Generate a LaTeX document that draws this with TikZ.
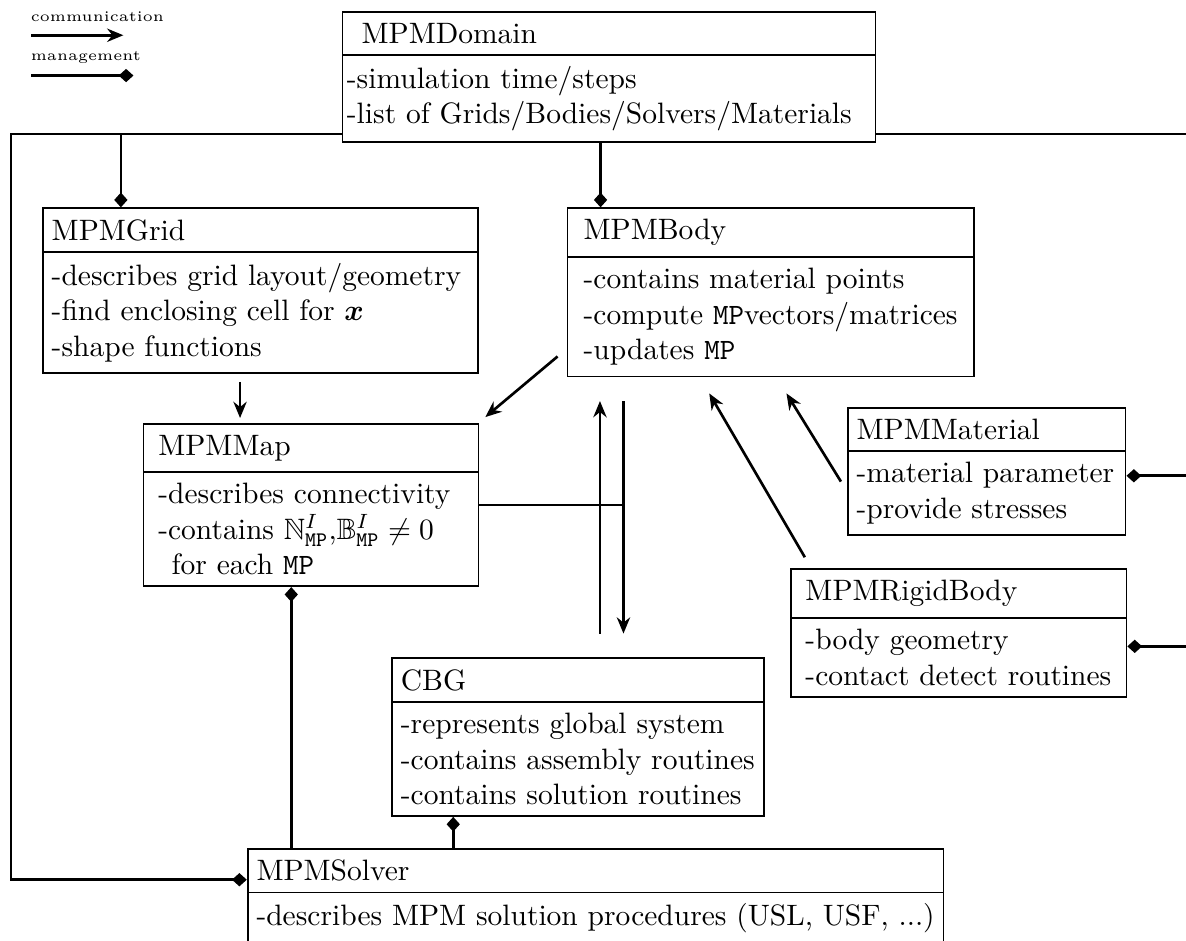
\documentclass[tikz,border=0pt]{standalone}
\usepackage{amsmath,amssymb}
\usetikzlibrary{arrows.meta,shapes.multipart}

\tikzset{
  classbox/.style={draw, semithick, rectangle split, rectangle split parts=2,
    rectangle split part align=left, align=left, inner xsep=3pt, inner ysep=3.5pt,
    anchor=north west},
  comm/.style={line width=0.9pt, -{Stealth[length=5.5pt,width=4.5pt]}},
  manage/.style={line width=0.9pt, -{Diamond[length=5pt,width=4.5pt]}},
  link/.style={line width=0.9pt},
  legend/.style={font=\tiny, inner sep=0pt, anchor=west},
}

\begin{document}
\begin{tikzpicture}
  \useasboundingbox (0,0) rectangle (14.13,-11.2);
  \clip (0,0) rectangle (14.13,-11.2);

  % legend
  \node[legend] (commtxt) at (0.36,-0.2) {communication};
  \draw[comm] (0.37,-0.42) coordinate (comma) -- (1.47,-0.42) coordinate (commb);
  \node[legend] (mantxt) at (0.36,-0.68) {management};
  \draw[manage] (0.37,-0.9) coordinate (mana) -- (1.59,-0.9) coordinate (manb);

  % classes
  \node[classbox, minimum width=6.35cm, inner xsep=1.5pt] (dom) at (4.07,-0.13)
    {\hspace*{5pt}MPMDomain \nodepart{two} -simulation time/steps\\ -list of Grids/Bodies/Solvers/Materials};
  \node[classbox, minimum width=5.18cm] (grid) at (0.5,-2.47)
    {MPMGrid \nodepart{two} -describes grid layout/geometry\\ -find enclosing cell for $\boldsymbol{x}$\\ -shape functions};
  \node[classbox, minimum width=4.83cm, inner xsep=5.5pt] (body) at (6.75,-2.47)
    {MPMBody \nodepart{two} -contains material points\\ -compute \texttt{MP}vectors/matrices\\ -updates \texttt{MP}};
  \node[classbox, minimum width=3.99cm, inner xsep=5pt] (map) at (1.70,-5.04)
    {MPMMap \nodepart{two} -describes connectivity\\ -contains $\mathbb{N}^I_{\mathtt{MP}}$,$\mathbb{B}^I_{\mathtt{MP}}\neq 0$\\ \hspace*{4.5pt}for each \texttt{MP}};
  \node[classbox, minimum width=3.31cm] (mat) at (10.09,-4.85)
    {MPMMaterial \nodepart{two} -material parameter\\ -provide stresses};
  \node[classbox, minimum width=4.0cm, inner xsep=5pt] (rigid) at (9.41,-6.77)
    {MPMRigidBody \nodepart{two} -body geometry\\ -contact detect routines};
  \node[classbox, minimum width=4.43cm] (cbg) at (4.66,-7.83)
    {CBG \nodepart{two} -represents global system\\ -contains assembly routines\\ -contains solution routines};
  \node[classbox, minimum width=8.28cm] (solver) at (2.94,-10.1)
    {MPMSolver \nodepart{two} -describes MPM solution procedures (USL, USF, ...)\rule[-12pt]{0pt}{12pt}};

  % management
  \coordinate (domL) at ([yshift=0.104cm]dom.south west);
  \coordinate (domR) at ([yshift=0.104cm]dom.south east);
  \coordinate (solL) at ([yshift=-0.381cm]solver.north west);
  \coordinate (leftx) at (0.131,0);
  \coordinate (rightx) at (14.13,0);
  \draw[manage] (domL) -- (leftx |- domL) -- (leftx |- solL) -- (solL);
  \draw[link] (domR) -- (rightx |- domR);
  \coordinate (matR) at ([yshift=-0.05cm]mat.east);
  \draw[manage] (rightx |- matR) -- (matR);
  \coordinate (rigR) at ([yshift=-0.16cm]rigid.east);
  \draw[manage] (rightx |- rigR) -- (rigR);
  \coordinate (gridtop) at ([xshift=0.94cm]grid.north west);
  \draw[manage] (gridtop |- domL) -- (gridtop);
  \coordinate (bodytop) at ([xshift=0.405cm]body.north west);
  \draw[manage] (bodytop |- dom.south) -- (bodytop);
  \coordinate (mapbot) at ([xshift=1.77cm]map.south west);
  \draw[manage] (mapbot |- solver.north) -- (mapbot);
  \coordinate (cbgbot) at ([xshift=0.74cm]cbg.south west);
  \draw[manage] (cbgbot |- solver.north) -- (cbgbot);

  % communication
  \coordinate (gridbot) at ([xshift=2.36cm]grid.south west);
  \draw[comm, shorten <=2.7pt, shorten >=1.7pt] (gridbot) -- (gridbot |- map.north);
  \draw[comm] ([shift={(-0.107,0.25)}]body.south west) -- ([shift={(0.071,0.071)}]map.north east);
  \coordinate (upx) at (7.148,0);
  \coordinate (downx) at (7.428,0);
  \draw[comm, shorten <=8pt, shorten >=8pt] (upx |- cbg.north) -- (upx |- body.south);
  \draw[comm, shorten <=8pt, shorten >=8pt] (downx |- body.south) -- (downx |- cbg.north);
  \draw[link] (map.east) -- (map.east -| downx);
  \draw[comm] ([shift={(-0.071,-0.119)}]mat.west) -- ([shift={(2.62,-0.19)}]body.south west);
  \draw[comm] ([shift={(0.179,0.131)}]rigid.north west) -- ([shift={(1.70,-0.19)}]body.south west);
\end{tikzpicture}
\end{document}
